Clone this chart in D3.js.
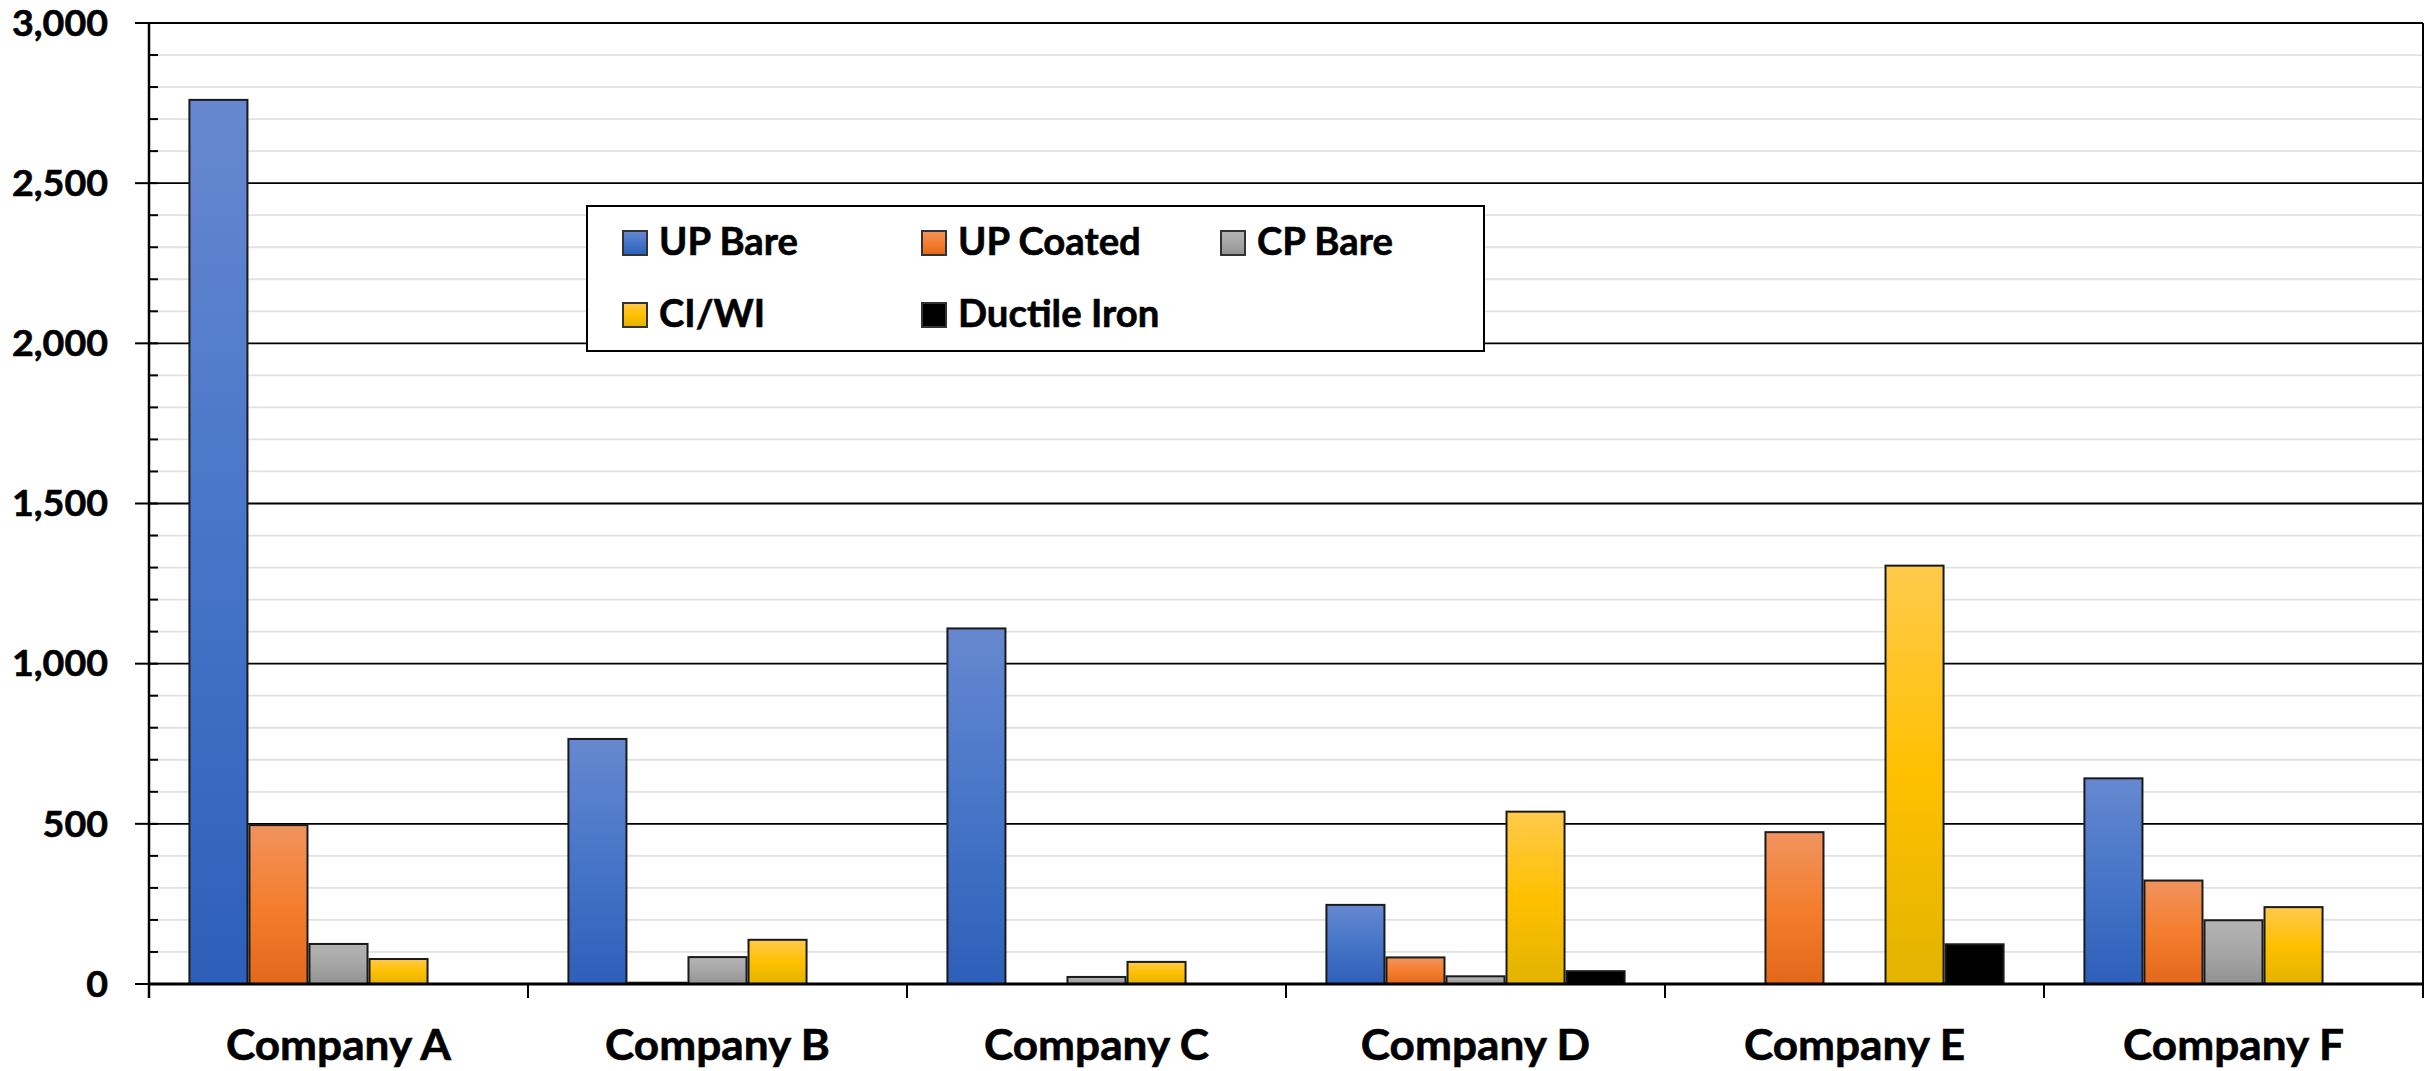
<!DOCTYPE html>
<html>
<head>
<meta charset="utf-8">
<script src="https://cdn.jsdelivr.net/npm/d3@7"></script>
<style>
  html, body { margin: 0; padding: 0; background: #fff; }
  svg { display: block; }
</style>
</head>
<body>
<svg id="chart" width="2435" height="1071"></svg>
<script>
// ---------- DATA ----------
const categories = ["Company A", "Company B", "Company C", "Company D", "Company E", "Company F"];
const seriesNames = ["UP Bare", "UP Coated", "CP Bare", "CI/WI", "Ductile Iron"];
const upBare      = [2760, 765, 1110, 247,    0, 642];
const upCoated    = [ 496,   4,    0,  83,  474, 323];
const cpBare      = [ 125,  84,   22,  24,    0, 199];
const ciWi        = [  78, 138,   69, 538, 1306, 240];
const ductileIron = [   0,   0,    0,  40,  124,   0];
const yMajorTicks = [0, 500, 1000, 1500, 2000, 2500, 3000];
const yMinorStep = 100;
const yMax = 3000;

const seriesValues = [upBare, upCoated, cpBare, ciWi, ductileIron];

// ---------- STYLE ----------
const FONT = "Lato, 'Open Sans', 'DejaVu Sans', sans-serif";
const CAP = 0.7165; // Lato cap-height ratio
const gradients = [
  ["#6788d0", "#4675c8", "#2e5fb9"],
  ["#f0935e", "#f47e2e", "#e2681a"],
  ["#b4b4b4", "#a6a6a6", "#929292"],
  ["#ffca4c", "#ffc000", "#e2b300"],
  ["#000000", "#000000", "#000000"]
];

const svg = d3.select("#chart");
const plot = { left: 149, right: 2423, top: 23, bottom: 984 };

function measure(sample, size) {
  const t = svg.append("text").attr("font-family", FONT).attr("font-weight", 700)
    .attr("font-size", size).text(sample);
  const w = t.node().getComputedTextLength();
  t.remove();
  return w;
}
// size from cap height, horizontal squeeze from target width
function spec(sample, capH, targetW) {
  const size = capH / CAP;
  return { size, sx: targetW / measure(sample, size) };
}
const xSpec = spec("Company A", 29.5, 225);
const ySpec = spec("3,000", 25.5, 96);
const lSpec = spec("UP Bare", 27.5, 139);

// gradients
const defs = svg.append("defs");
gradients.forEach((g, i) => {
  const lg = defs.append("linearGradient").attr("id", "grad" + i)
    .attr("x1", 0).attr("y1", 0).attr("x2", 0).attr("y2", 1);
  lg.append("stop").attr("offset", "0%").attr("stop-color", g[0]);
  lg.append("stop").attr("offset", "50%").attr("stop-color", g[1]);
  lg.append("stop").attr("offset", "100%").attr("stop-color", g[2]);
});

// scales
const x0 = d3.scaleBand().domain(categories).range([plot.left, plot.right]).paddingInner(0).paddingOuter(0);
const bw = x0.bandwidth();
const gapFrac = 0.104;
const x1 = d3.scaleBand().domain(seriesNames).range([bw * gapFrac, bw * (1 - gapFrac)]).padding(0);
const y = d3.scaleLinear().domain([0, yMax]).range([plot.bottom, plot.top]);

// minor gridlines
const minorVals = d3.range(0, yMax + 1, yMinorStep).filter(v => !yMajorTicks.includes(v));
svg.append("g").selectAll("line").data(minorVals).join("line")
  .attr("x1", plot.left).attr("x2", plot.right)
  .attr("y1", d => y(d)).attr("y2", d => y(d))
  .attr("stroke", "#e2e2e2").attr("stroke-width", 1.8);

// major gridlines
svg.append("g").selectAll("line").data(yMajorTicks.filter(v => v > 0)).join("line")
  .attr("x1", plot.left).attr("x2", plot.right)
  .attr("y1", d => y(d)).attr("y2", d => y(d))
  .attr("stroke", "#000").attr("stroke-width", 1.8);

// bars
const barData = [];
categories.forEach((c, ci) => {
  seriesNames.forEach((s, si) => {
    const v = seriesValues[si][ci];
    if (v > 0) barData.push({ c, s, si, v });
  });
});
svg.append("g").selectAll("rect").data(barData).join("rect")
  .attr("x", d => x0(d.c) + x1(d.s) + 1)
  .attr("width", x1.bandwidth() - 2)
  .attr("y", d => y(d.v))
  .attr("height", d => y(0) - y(d.v))
  .attr("fill", d => `url(#grad${d.si})`)
  .attr("stroke", "#1a1a1a").attr("stroke-width", 2);

// right border
svg.append("line").attr("x1", plot.right).attr("x2", plot.right)
  .attr("y1", plot.top).attr("y2", plot.bottom + 14)
  .attr("stroke", "#000").attr("stroke-width", 2);

// y axis line
svg.append("line").attr("x1", plot.left).attr("x2", plot.left)
  .attr("y1", plot.top).attr("y2", plot.bottom + 14)
  .attr("stroke", "#000").attr("stroke-width", 2.5);

// minor ticks
svg.append("g").selectAll("line").data(minorVals).join("line")
  .attr("x1", plot.left).attr("x2", plot.left + 9)
  .attr("y1", d => y(d)).attr("y2", d => y(d))
  .attr("stroke", "#000").attr("stroke-width", 2);
// major ticks
svg.append("g").selectAll("line").data(yMajorTicks).join("line")
  .attr("x1", plot.left - 14).attr("x2", plot.left + 9)
  .attr("y1", d => y(d)).attr("y2", d => y(d))
  .attr("stroke", "#000").attr("stroke-width", 2);

// x baseline
svg.append("line").attr("x1", plot.left).attr("x2", plot.right)
  .attr("y1", plot.bottom).attr("y2", plot.bottom)
  .attr("stroke", "#000").attr("stroke-width", 3);

// category ticks
const boundaries = categories.map(c => x0(c)).concat([plot.right]);
svg.append("g").selectAll("line").data(boundaries).join("line")
  .attr("x1", d => d).attr("x2", d => d)
  .attr("y1", plot.bottom).attr("y2", plot.bottom + 14)
  .attr("stroke", "#000").attr("stroke-width", 2);

// y labels
const fmt = d3.format(",");
svg.append("g").selectAll("text").data(yMajorTicks).join("text")
  .attr("transform", d => `translate(108,${y(d) + 25.5 / 2}) scale(${ySpec.sx},1)`)
  .attr("text-anchor", "end")
  .attr("font-family", FONT).attr("font-weight", 700).attr("font-size", ySpec.size)
  .attr("fill", "#000").attr("stroke", "#000").attr("stroke-width", 0.6)
  .text(d => fmt(d));

// x labels
svg.append("g").selectAll("text").data(categories).join("text")
  .attr("transform", d => `translate(${x0(d) + bw / 2},1060) scale(${xSpec.sx},1)`)
  .attr("text-anchor", "middle")
  .attr("font-family", FONT).attr("font-weight", 700).attr("font-size", xSpec.size)
  .attr("fill", "#000").attr("stroke", "#000").attr("stroke-width", 0.6)
  .text(d => d);

// legend
const legend = svg.append("g");
legend.append("rect").attr("x", 587).attr("y", 206).attr("width", 1484 - 587).attr("height", 351 - 206)
  .attr("fill", "#fff").attr("stroke", "#000").attr("stroke-width", 2);
const legendCols = [623, 922, 1221];
const legendRows = [231, 303];
const items = legend.selectAll("g.item").data(seriesNames).join("g").attr("class", "item")
  .attr("transform", (d, i) => `translate(${legendCols[i % 3]},${legendRows[Math.floor(i / 3)]})`);
items.append("rect").attr("x", 0).attr("y", 0).attr("width", 24).attr("height", 24)
  .attr("fill", (d, i) => `url(#grad${i})`).attr("stroke", "#333").attr("stroke-width", 2);
items.append("text")
  .attr("transform", `translate(36,24) scale(${lSpec.sx},1)`)
  .attr("font-family", FONT).attr("font-weight", 700).attr("font-size", lSpec.size)
  .attr("fill", "#000").attr("stroke", "#000").attr("stroke-width", 0.6)
  .text(d => d);
</script>
</body>
</html>
